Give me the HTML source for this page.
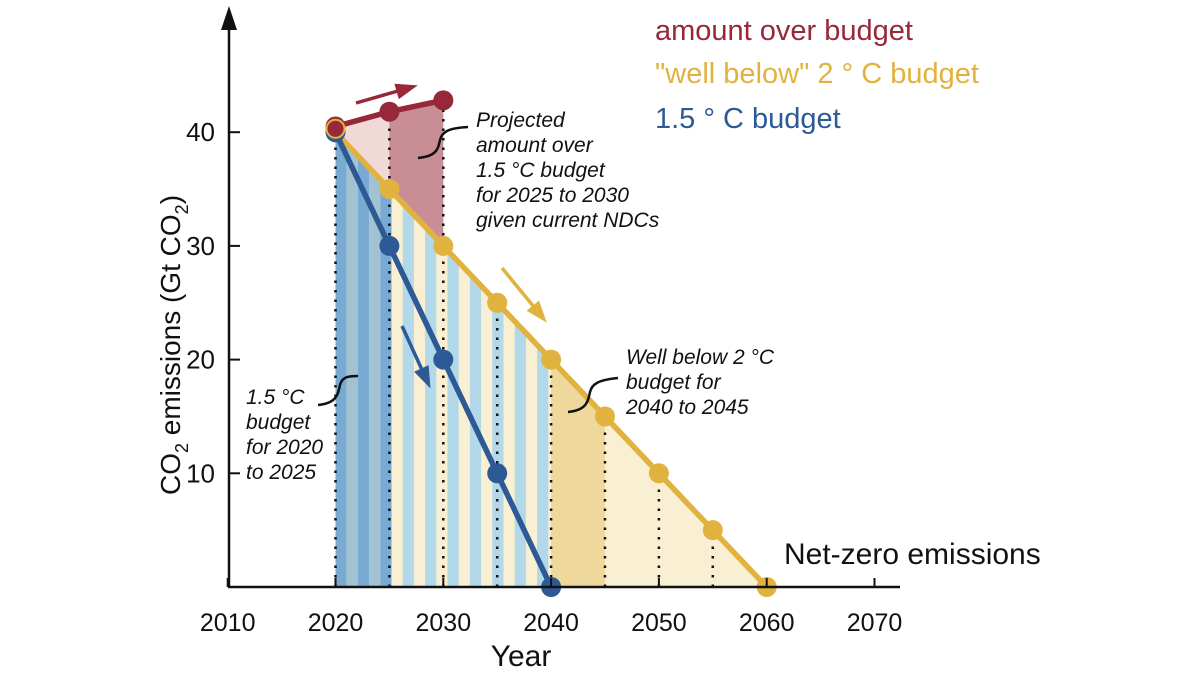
<!DOCTYPE html>
<html><head><meta charset="utf-8"><style>
html,body{margin:0;padding:0;background:#fff;width:1200px;height:675px;overflow:hidden}
svg text{font-family:"Liberation Sans",sans-serif}
</style></head><body>
<svg id="chart" width="1200" height="675" viewBox="0 0 1200 675">
<defs>
<clipPath id="yclip"><polygon id="yclipPoly"/></clipPath>
</defs>
<g id="fills"></g>
<g id="dots"></g>
<g id="lines"></g>
<g id="axes"></g>
<g id="notes"></g>
</svg>
<script>
const years = [2020,2025,2030,2035,2040,2045,2050,2055,2060];
const wellBelow = [40,35,30,25,20,15,10,5,0];
const budget15Years = [2020,2025,2030,2035,2040];
const budget15 = [40,30,20,10,0];
const overYears = [2020,2025,2030];
const overValues = [40.5,41.8,42.8];
const xTicks = [2010,2020,2030,2040,2050,2060,2070];
const yTicks = [10,20,30,40];

const NS='http://www.w3.org/2000/svg';
const X=y=>335.5+(y-2020)*10.78;
const Y=v=>587-v*11.37;
function mk(parent,tag,attrs,text){const e=document.createElementNS(NS,tag);for(const k in attrs)e.setAttribute(k,attrs[k]);if(text!==undefined)e.textContent=text;document.getElementById(parent).appendChild(e);return e;}
const RED='#97283a',YEL='#e2b23f',BLU='#2d5a95';

document.getElementById('yclipPoly').setAttribute('points',years.map((y,i)=>X(y)+','+Y(wellBelow[i])).join(' ')+' '+X(2060)+','+Y(0)+' '+X(2020)+','+Y(0));

let e;
e=mk('fills','polygon',{points:years.map((y,i)=>X(y)+','+Y(wellBelow[i])).join(' ')+' '+X(2020)+','+Y(0),fill:'#f9efd2'});


e=mk('fills','polygon',{points:`${X(2040)},${Y(0)} ${X(2040)},${Y(wellBelow[4])} ${X(2045)},${Y(wellBelow[5])} ${X(2045)},${Y(0)}`,fill:'#efd89c'});


const g=mk('fills','g',{'clip-path':'url(#yclip)'});
for(let x=X(2020);x<X(2040);x+=11.2){
  const idx=Math.round((x-X(2020))/11.2);
  let col=null;
  if(x<X(2025)-1) col = idx%2===0?'#78aad3':'#a2c2d2';
  else if(idx%2===0) col='#b2d8e9';
  if(!col) continue;
  const r=document.createElementNS(NS,'rect');
  r.setAttribute('x',x);r.setAttribute('y',Y(45));r.setAttribute('width',11.2);r.setAttribute('height',Y(0)-Y(45));r.setAttribute('fill',col);
  
  
  g.appendChild(r);
}
e=mk('fills','polygon',{points:overYears.map((y,i)=>X(y)+','+Y(overValues[i])).join(' ')+` ${X(2030)},${Y(wellBelow[2])} ${X(2020)},${Y(wellBelow[0])}`,fill:'#f1d9d8'});


e=mk('fills','polygon',{points:`${X(2025)},${Y(overValues[1])} ${X(2030)},${Y(overValues[2])} ${X(2030)},${Y(wellBelow[2])} ${X(2025)},${Y(wellBelow[1])}`,fill:'#c98d96'});



years.slice(0,8).forEach((y,i)=>{
  let top=Y(wellBelow[i]);
  const oi=overYears.indexOf(y); if(oi>=0) top=Y(overValues[oi]);
  const l=mk('dots','line',{x1:X(y),x2:X(y),y1:Y(0),y2:top,stroke:'#111','stroke-width':2.5,'stroke-dasharray':'2.5 7'});
  
  
});

function series(xs,vs,col,name){
  const pl=mk('lines','polyline',{points:xs.map((y,i)=>X(y)+','+Y(vs[i])).join(' '),fill:'none',stroke:col,'stroke-width':5.5});
  
  
  xs.forEach((y,i)=>{const c=mk('lines','circle',{cx:X(y),cy:Y(vs[i]),r:10,fill:col});
    
    });
}
series(overYears,overValues,RED,'over-budget');
series(years,wellBelow,YEL,'well-below-2c');
series(budget15Years,budget15,BLU,'budget-1-5c');
mk('lines','circle',{cx:X(2020),cy:Y(40.3),r:9,fill:RED,stroke:YEL,'stroke-width':2});

e=mk('axes','line',{x1:229,y1:587,x2:229,y2:20,stroke:'#111','stroke-width':2.5});

e=mk('axes','polygon',{points:'229,6 221,30 237,30',fill:'#111'});

e=mk('axes','line',{x1:228,y1:587,x2:900,y2:587,stroke:'#111','stroke-width':2.5});

xTicks.forEach(t=>{
  mk('axes','line',{x1:X(t),x2:X(t),y1:587,y2:578,stroke:'#111','stroke-width':2});
  const tx=mk('axes','text',{x:X(t),y:631,'text-anchor':'middle','font-size':25,fill:'#111'},t);
  
  
});
yTicks.forEach(t=>{
  mk('axes','line',{x1:229,x2:240,y1:Y(t),y2:Y(t),stroke:'#111','stroke-width':2});
  const tx=mk('axes','text',{x:215,y:Y(t)+9,'text-anchor':'end','font-size':26,fill:'#111'},t);
  
  
});
e=mk('axes','text',{x:521,y:666,'text-anchor':'middle','font-size':30,fill:'#111'},'Year');

e=mk('axes','text',{transform:'translate(180,345) rotate(-90)','text-anchor':'middle','font-size':28,fill:'#111'});
e.innerHTML='CO<tspan font-size="18" dy="8">2</tspan><tspan dy="-8"> emissions (Gt CO</tspan><tspan font-size="18" dy="8">2</tspan><tspan dy="-8">)</tspan>';


[['amount over budget',RED,40],['"well below" 2 ° C budget',YEL,83],['1.5 ° C budget',BLU,128]].forEach(([t,c,y])=>{
  const tx=mk('notes','text',{x:655,y:y,'font-size':29,fill:c},t);
  
  
});
e=mk('notes','text',{x:784,y:564,'font-size':30,fill:'#111'},'Net-zero emissions');


function note(x,y,lines,name){
  const t=mk('notes','text',{x:x,'font-size':21,'font-style':'italic',fill:'#111'});
  lines.forEach((s,i)=>{const ts=document.createElementNS(NS,'tspan');ts.setAttribute('x',x);ts.setAttribute('y',y+i*25);ts.textContent=s;t.appendChild(ts);});
  
  
}
note(476,127,['Projected','amount over','1.5 °C budget','for 2025 to 2030','given current NDCs'],'over-budget-annotation');
note(626,364,['Well below 2 °C','budget for','2040 to 2045'],'well-below-annotation');
note(246,404,['1.5 °C','budget','for 2020','to 2025'],'budget-15-annotation');
mk('notes','path',{d:'M418,158 C438,156 438,148 440,140 C442,132 448,128 468,127',fill:'none',stroke:'#111','stroke-width':2.5});
mk('notes','path',{d:'M568,412 C588,410 588,400 590,392 C592,384 598,380 618,378',fill:'none',stroke:'#111','stroke-width':2.5});
mk('notes','path',{d:'M318,405 C338,403 338,393 340,385 C342,377 348,376 358,376',fill:'none',stroke:'#111','stroke-width':2.5});

function arrow(x1,y1,x2,y2,c,name){
  const l=mk('notes','line',{x1,y1,x2,y2,stroke:c,'stroke-width':3.5});
  
  const a=Math.atan2(y2-y1,x2-x1),L=16,W=8;
  const p=[[x2+Math.cos(a)*6,y2+Math.sin(a)*6],[x2-Math.cos(a)*L+Math.sin(a)*W,y2-Math.sin(a)*L-Math.cos(a)*W],[x2-Math.cos(a)*L-Math.sin(a)*W,y2-Math.sin(a)*L+Math.cos(a)*W]];
  mk('notes','polygon',{points:p.map(q=>q.join(',')).join(' '),fill:c});
}
arrow(356,103,412,87,RED,'trend-arrow-over');
arrow(502,268,543,318,YEL,'trend-arrow-well-below');
arrow(402,326,428,383,BLU,'trend-arrow-15');
</script>
</body></html>
